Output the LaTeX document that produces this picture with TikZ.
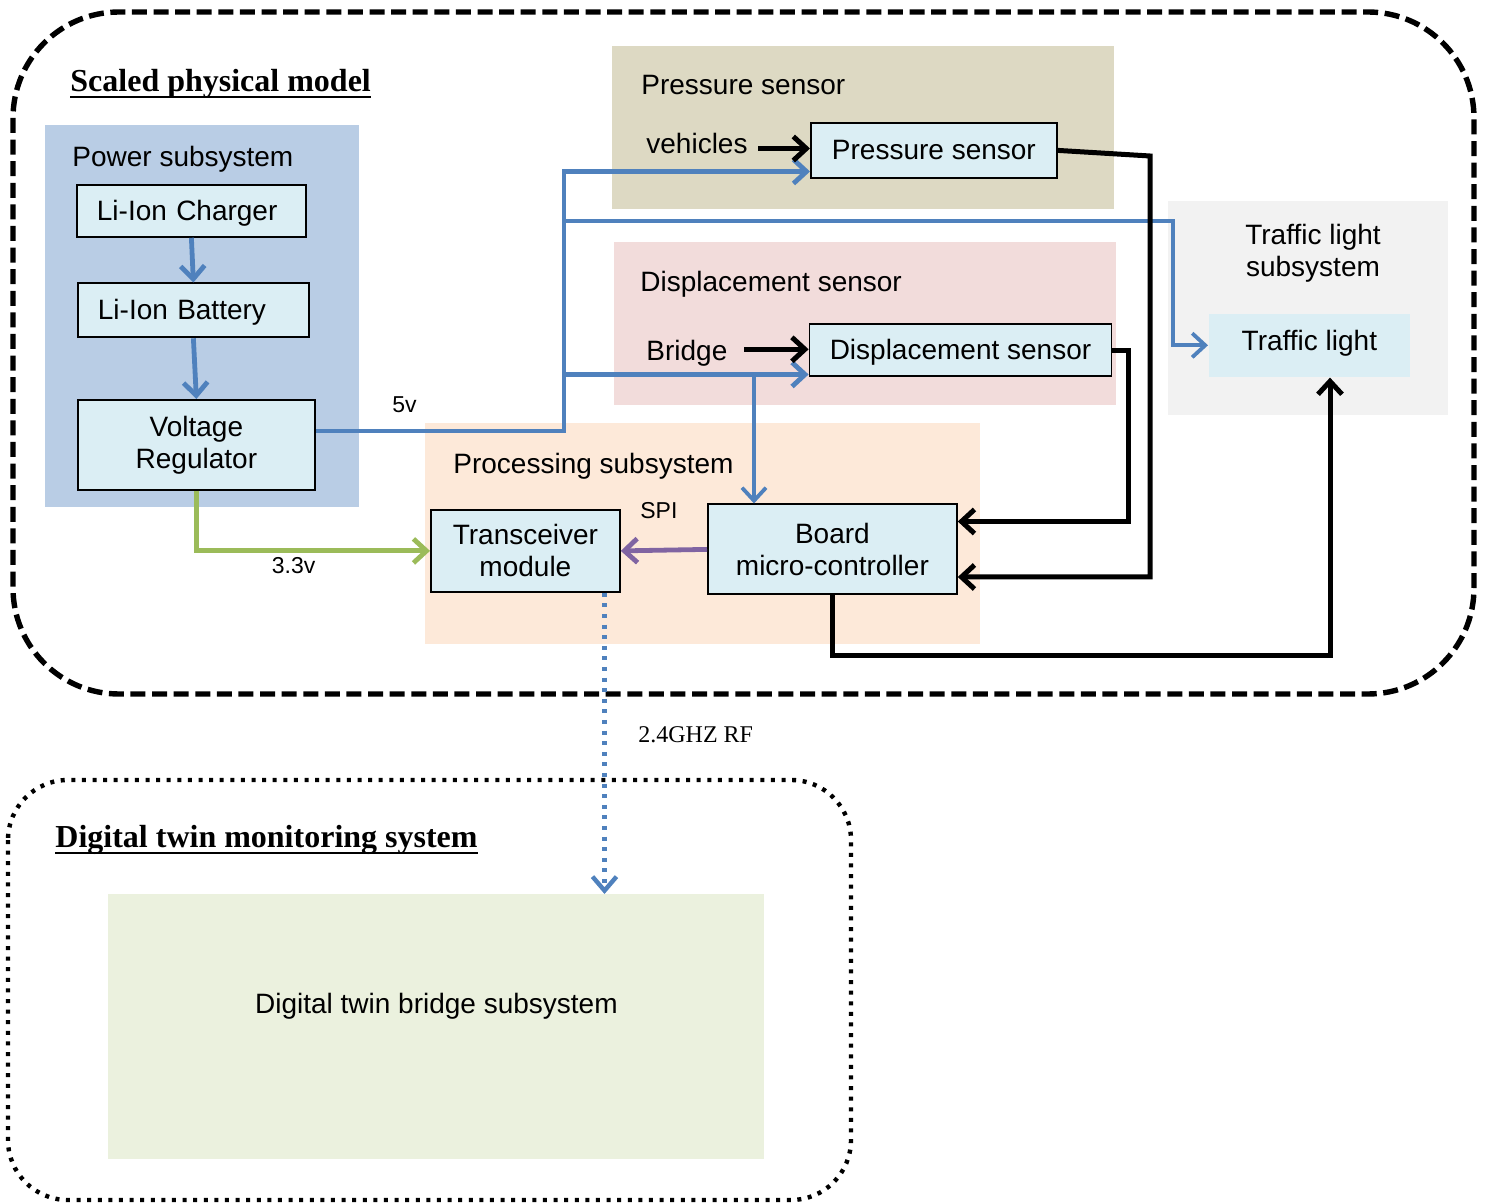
\documentclass[tikz,border=0pt]{standalone}
\usepackage{fontspec}
\setmainfont{Liberation Sans}
\newfontfamily\timesfont{Liberation Serif}
\newcommand{\myuline}[1]{\sbox0{#1}\rlap{\rule[-3pt]{\wd0}{1pt}}\usebox0}
\usetikzlibrary{arrows.meta,calc}
\definecolor{cblue}{HTML}{4F81BD}
\definecolor{cgreen}{HTML}{9BBB59}
\definecolor{cpurple}{HTML}{8064A2}
\definecolor{boxfill}{HTML}{DBEEF4}
\definecolor{powbg}{HTML}{B9CDE5}
\definecolor{presbg}{HTML}{DDD9C3}
\definecolor{dispbg}{HTML}{F2DCDB}
\definecolor{trafbg}{HTML}{F2F2F2}
\definecolor{procbg}{HTML}{FDE9D9}
\definecolor{dtbg}{HTML}{EBF1DE}
\tikzset{
  bx/.style={draw=black, line width=0.9pt, fill=boxfill, inner sep=0pt, anchor=north west,
    font=\fontsize{14pt}{16pt}\selectfont, text height=10pt, text depth=0.5pt},
  bxm/.style={draw=black, line width=0.9pt, fill=boxfill, inner sep=0pt, anchor=north west,
    align=center, font=\fontsize{14pt}{16pt}\selectfont},
  bgbox/.style={fill=#1, draw=none, inner sep=0pt, anchor=north west},
  ttl/.style={anchor=base west, inner sep=0pt, font=\fontsize{14pt}{16pt}\selectfont},
  lbl/.style={anchor=base west, inner sep=0pt, font=\fontsize{11.5pt}{14pt}\selectfont},
  heading/.style={anchor=base west, inner sep=0pt, font=\fontsize{16pt}{18pt}\timesfont\bfseries},
  tipb/.style={-{Straight Barb[length=6.5pt,width=12pt]}},
  pw/.style={draw=cblue, line width=2.4pt, tipb},
  pwthin/.style={draw=cblue, line width=1.9pt, tipb},
  blk/.style={draw=black, line width=2.5pt, tipb},
  grn/.style={draw=cgreen, line width=2.4pt, tipb},
  prp/.style={draw=cpurple, line width=2.4pt, tipb},
  rfl/.style={draw=cblue, line width=2.2pt, dash pattern=on 2pt off 3.3pt, -{Straight Barb[length=7pt,width=12pt]}},
}
\begin{document}
\begin{tikzpicture}[x=0.5pt,y=-0.5pt]
\useasboundingbox (0,0) rectangle (1485,1203);

% outer frames
\draw[line width=2.7pt, dash pattern=on 7.5pt off 3.3pt, rounded corners=53pt] (13,12) rectangle (1474,694);
\draw[line width=2.2pt, dash pattern=on 2pt off 3.3pt, rounded corners=30pt] (8,780) rectangle (851,1200);

\node[heading] (title1) at (70,92) {\myuline{Scaled physical model}};
\node[heading] (title2) at (55,848) {\myuline{Digital twin monitoring system}};

% background panels
\node[bgbox=powbg, minimum width=157pt, minimum height=191pt] (powbg) at (45,125) {};
\node[bgbox=presbg, minimum width=250.8pt, minimum height=81.2pt] (presbg) at (612,46) {};
\node[bgbox=dispbg, minimum width=250.8pt, minimum height=81.2pt] (dispbg) at (614,242) {};
\node[bgbox=trafbg, minimum width=139.8pt, minimum height=106.8pt] (trafbg) at (1168,201) {};
\node[bgbox=procbg, minimum width=277.5pt, minimum height=110.5pt] (procbg) at (425,423) {};
\node[bgbox=dtbg, minimum width=328pt, minimum height=132.2pt, font=\fontsize{14pt}{16pt}\selectfont,
      text height=10pt, text depth=23pt] (dt) at (108,894) {Digital twin bridge subsystem};

% panel titles
\node[ttl] (powt) at (72,167) {Power subsystem};
\node[ttl] (prest) at (641,95) {Pressure sensor};
\node[ttl] (veh) at (646,154) {vehicles};
\node[ttl] (dispt) at (640,292) {Displacement sensor};
\node[ttl] (brg) at (646,361) {Bridge};
\node[align=center, inner sep=0pt, font=\fontsize{14pt}{16pt}\selectfont] (traft) at (1313,253) {Traffic light\\subsystem};
\node[ttl] (proct) at (453,474) {Processing subsystem};

% blocks
\node[bx, minimum width=114.5pt, minimum height=26pt, inner xsep=10pt, text width=94.5pt, align=left] (chg) at (76,184) {Li-Ion Charger};
\node[bx, minimum width=115.5pt, minimum height=27pt, inner xsep=10pt, text width=95.5pt, align=left] (bat) at (77,282.5) {Li-Ion Battery};
\node[bxm, minimum width=118.5pt, minimum height=45pt] (vr) at (77,399) {Voltage\\Regulator};
\node[bx, minimum width=123pt, minimum height=27.5pt] (ps) at (810,122) {Pressure sensor};
\node[bx, minimum width=151pt, minimum height=26pt] (ds) at (808.6,323.3) {Displacement sensor};
\node[bx, draw=none, minimum width=100.5pt, minimum height=31.4pt, text depth=4.7pt] (tl) at (1208,313) {Traffic light};
\node[bxm, minimum width=94.5pt, minimum height=41pt] (tr) at (430,509) {Transceiver\\module};
\node[bxm, minimum width=124.5pt, minimum height=45pt] (mc) at (707,503.5) {Board\\micro-controller};

% labels
\node[lbl] (l5v) at (392,413) {5v};
\node[lbl] (l33) at (271.5,574) {3.3v};
\node[lbl] (lspi) at (640,519) {SPI};
\node[anchor=base west, inner sep=0pt, font=\fontsize{12pt}{14pt}\timesfont] (lrf) at (638,743) {2.4GHZ RF};

% junction coordinates
\coordinate (j5) at (564,431);
\coordinate (jA) at (564,171.5);
\coordinate (jB) at (564,221);
\coordinate (jBr) at (1173,221);
\coordinate (jC) at (564,374.5);
\coordinate (jD) at (754,374.5);
\coordinate (vs) at (758,148.5);
\coordinate (bs) at (744,349.3);
\coordinate (k1) at (1150,156);
\coordinate (k2) at (1150,577);
\coordinate (k4) at (1128,521.5);
\coordinate (k5) at (1330,655.5);
\coordinate (rf) at (604.5,591);

% power connectors
\draw[pw] (chg.south) -- (bat.north);
\draw[pw] (bat.south) -- (vr.north);
\draw[pw] (vr.east |- j5) -- (j5) -- (jA) -- (ps.west |- jA);
\draw[pwthin] (jB) -- (jBr) -- (jBr |- tl.west) -- (tl.west);
\draw[pw] (jC) -- (ds.west |- jC);
\draw[pwthin] (jD) -- (jD |- mc.north);
\draw[grn] (vr.south) |- (tr.west);

% signal connectors
\draw[blk] (vs) -- (ps.west |- vs);
\draw[blk] (bs) -- (ds.west |- bs);
\draw[blk] (ps.east) -- (k1) -- (k2) -- (mc.east |- k2);
\draw[blk] (ds.east) -| (k4) -- (mc.east |- k4);
\draw[blk] (mc.south) |- (k5) -- (k5 |- tl.south);
\draw[prp] (mc.west) -- (tr.east);
\draw[rfl] (tr.south -| rf) -- (rf |- dt.north);
\end{tikzpicture}
\end{document}
